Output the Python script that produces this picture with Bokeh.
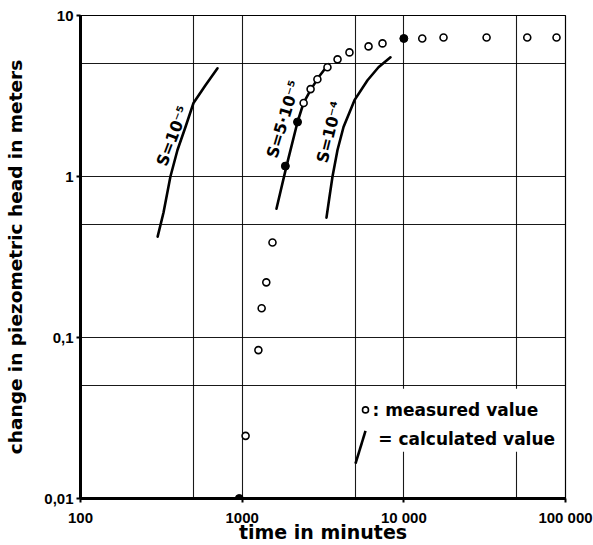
from bokeh.plotting import figure
from bokeh.models import FixedTicker, Range1d
from bokeh.core.properties import value
from bokeh.embed import file_html
from bokeh.resources import INLINE

# ---- data ----
meas_t = [1050, 1260, 1320, 1410, 1540, 2400, 2650, 2920, 3370, 3890, 4610,
          6050, 7380, 13000, 17600, 32500, 58000, 88000]
meas_h = [0.0245, 0.0835, 0.152, 0.22, 0.389, 2.86, 3.49, 4.02, 4.77, 5.34, 5.90,
          6.43, 6.71, 7.2, 7.3, 7.3, 7.3, 7.3]
dot_t = [960, 1850, 2200, 10000]
dot_h = [0.01, 1.16, 2.18, 7.2]

s1_t = [300, 326, 360, 398, 446, 500, 593, 704]
s1_h = [0.423, 0.596, 1.0, 1.46, 2.03, 2.86, 3.69, 4.70]
s2_t = [1630, 1880, 2200, 2395, 2647, 2966, 3420]
s2_h = [0.631, 1.16, 2.18, 2.86, 3.44, 4.13, 4.98]
s3_t = [3323, 3469, 3621, 3888, 4236, 4953, 5962, 6971, 8271]
s3_h = [0.555, 0.749, 1.0, 1.46, 2.03, 2.98, 3.96, 4.77, 5.50]

curve_labels = ["S=10\u207b\u2075", "S=5\u00b710\u207b\u2075", "S=10\u207b\u2074"]

x_ticks = [100, 1000, 10000, 100000]
x_tick_labels = ["100", "1000", "10 000", "100 000"]
y_ticks = [0.01, 0.1, 1, 10]
y_tick_labels = ["0,01", "0,1", "1", "10"]
x_grid = [100, 500, 1000, 5000, 10000, 50000, 100000]
y_grid = [0.01, 0.05, 0.1, 0.5, 1, 5, 10]

legend_texts = [": measured value", "= calculated value"]

LBL = "DejaVu Sans"
TCK = "Liberation Sans"

p = figure(width=593, height=545, x_axis_type="log", y_axis_type="log",
           x_range=Range1d(100, 100000), y_range=Range1d(0.01, 10),
           output_backend="svg", toolbar_location=None,
           min_border_left=80, min_border_right=28, min_border_top=15, min_border_bottom=45,
           background_fill_color="white", border_fill_color="white")

p.outline_line_color = "black"
p.outline_line_width = 1.2

# grid
p.xgrid.ticker = FixedTicker(ticks=x_grid)
p.ygrid.ticker = FixedTicker(ticks=y_grid)
for g in (p.xgrid, p.ygrid):
    g.grid_line_color = "black"
    g.grid_line_width = 1.1
    g.grid_line_alpha = 0.9

# axes
p.xaxis.ticker = FixedTicker(ticks=x_ticks)
p.yaxis.ticker = FixedTicker(ticks=y_ticks)
p.xaxis.major_label_overrides = dict(zip(x_ticks, x_tick_labels))
p.yaxis.major_label_overrides = dict(zip(y_ticks, y_tick_labels))
for ax in (p.xaxis, p.yaxis):
    ax.axis_line_width = 3
    ax.axis_line_color = "black"
    ax.major_tick_line_color = "black"
    ax.major_tick_line_width = 2
    ax.major_tick_out = 4
    ax.major_tick_in = 0
    ax.minor_tick_line_color = None
    ax.major_label_text_font = TCK
    ax.major_label_text_font_style = "bold"
    ax.major_label_text_font_size = "15px"
    ax.major_label_text_color = "black"
    ax.axis_label_text_font = LBL
    ax.axis_label_text_font_style = "bold"
    ax.axis_label_text_color = "black"

p.xaxis.axis_label = "time in minutes"
p.xaxis.axis_label_text_font_size = "19px"
p.xaxis.major_label_standoff = 6
p.xaxis.axis_label_standoff = -8

p.yaxis.axis_label = "change in piezometric head in meters"
p.yaxis.axis_label_text_font_size = "18.5px"
p.yaxis.major_label_standoff = 3
p.yaxis.axis_label_standoff = 15

# legend box (white patch over the grid)
p.quad(left=[5150], right=[97000], bottom=[0.0195], top=[0.048],
       fill_color="white", line_color=None)

# calculated curves
for t, h in ((s1_t, s1_h), (s2_t, s2_h), (s3_t, s3_h)):
    p.line(t, h, line_color="black", line_width=2.6, line_cap="round", line_join="round")

# measured values
p.scatter(meas_t, meas_h, marker="circle", size=7, fill_color="white",
          line_color="black", line_width=1.6)
p.scatter(dot_t, dot_h, marker="circle", size=8, fill_color="black",
          line_color="black")

# curve labels
p.text(x=[371, 1801, 3469], y=[1.785, 2.27, 1.89], text=curve_labels,
       angle=[69, 73, 76], angle_units="deg",
       text_font=value(LBL), text_font_style="bold", text_font_size="16px",
       text_align="center", text_baseline="middle", text_color="black")

# legend content
p.scatter([5793], [0.0355], marker="circle", size=6, fill_color="white",
          line_color="black", line_width=1.6)
p.line([5023, 5793], [0.01647, 0.02634], line_color="black", line_width=2.6)
p.text(x=[6400, 6950], y=[0.0355, 0.0235], text=legend_texts,
       text_font=value(LBL), text_font_style="bold", text_font_size="17px",
       text_align="left", text_baseline="middle", text_color="black")

open("out.html", "w").write(file_html(p, INLINE))
